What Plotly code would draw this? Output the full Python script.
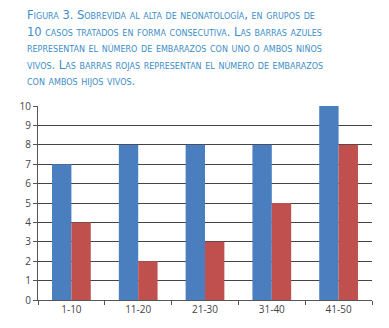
import plotly.graph_objects as go

categories = ["1-10", "11-20", "21-30", "31-40", "41-50"]
blue_values = [7, 8, 8, 8, 10]
red_values = [4, 2, 3, 5, 8]
y_ticks = list(range(0, 11))
title_lines = [
    "Figura 3. Sobrevida al alta de neonatología, en grupos de",
    "10 casos tratados en forma consecutiva. Las barras azules",
    "representan el número de embarazos con uno o ambos niños",
    "vivos. Las barras rojas representan el número de embarazos",
    "con ambos hijos vivos.",
]

# body has an 8px margin in the page, so the figure is offset by (8, 8)
W, H = 381, 320
L, T = 16, 98
PW, PH = 348, 194

fig = go.Figure()
fig.add_bar(x=categories, y=blue_values, marker=dict(color="#4A7EBF", line=dict(width=0)))
fig.add_bar(x=categories, y=red_values, marker=dict(color="#C0504D", line=dict(width=0)))

for i, line in enumerate(title_lines):
    fig.add_annotation(
        text=line, xref="paper", yref="paper",
        x=(2 - L) / PW, y=1 + (T - (7 + i * 16.5)) / PH,
        xanchor="left", yanchor="middle", showarrow=False,
        font=dict(family="DejaVu Sans", size=11.5, color="#3C8DC8", variant="small-caps"),
    )

fig.update_layout(
    width=W, height=H,
    margin=dict(l=L, r=W - L - PW, t=T, b=H - T - PH),
    paper_bgcolor="white", plot_bgcolor="white",
    showlegend=False,
    barmode="group", bargap=0.42, bargroupgap=0,
    font=dict(family="Open Sans", size=10, color="#444444"),
)
fig.update_xaxes(
    showline=True, linecolor="#555555", linewidth=1,
    ticks="outside", ticklen=4, tickcolor="#555555", tickson="boundaries",
    showgrid=False,
)
fig.update_yaxes(
    range=[0, 10], tickvals=y_ticks, showgrid=True, gridcolor="#444444", gridwidth=1,
    showline=True, linecolor="#555555", linewidth=1,
    ticks="outside", ticklen=4, tickcolor="#555555", zeroline=False,
)

fig.write_html("out.html")
